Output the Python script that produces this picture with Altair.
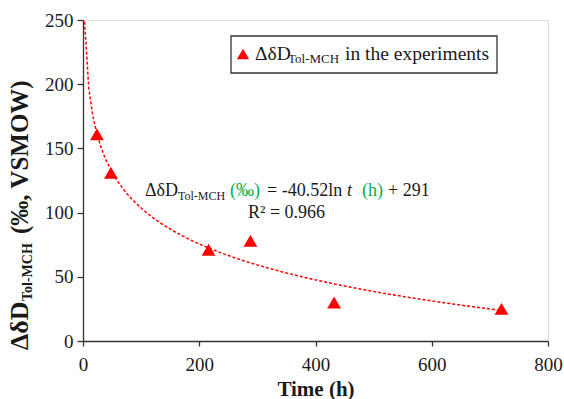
import altair as alt
import pandas as pd

# ---- data ----
time_h = [24, 48, 216, 288, 432, 720]
delta_dD = [161, 131, 71, 78, 30, 25]
x_ticks = [0, 200, 400, 600, 800]
y_ticks = [0, 50, 100, 150, 200, 250]
fit_extent = [2.75, 720]

df = pd.DataFrame({"t": time_h, "v": delta_dD})

FONT = "Liberation Serif, Times New Roman, serif"
TXT = "#1a1a1a"
AX = "#333333"
RED = "#FF0000"
GREEN = "#00B050"

x_enc = alt.X(
    "t:Q",
    scale=alt.Scale(domain=[0, 800], nice=False),
    axis=alt.Axis(
        values=x_ticks, title="Time (h)", grid=False, labelFlush=False,
        domainColor=AX, domainWidth=1.3, tickColor=AX, tickWidth=1.3, tickSize=5,
        labelFont=FONT, labelFontSize=19, labelColor=TXT, labelPadding=9,
        titleFont=FONT, titleFontSize=21, titleFontWeight="bold", titleColor=TXT,
        titlePadding=4,
    ),
)
y_enc = alt.Y(
    "v:Q",
    scale=alt.Scale(domain=[0, 250], nice=False),
    axis=alt.Axis(
        values=y_ticks, title=None, grid=False, labelFlush=False,
        domainColor=AX, domainWidth=1.3, tickColor=AX, tickWidth=1.3, tickSize=6,
        labelFont=FONT, labelFontSize=19, labelColor=TXT, labelPadding=4,
    ),
)

base = alt.Chart(df)

fit = base.transform_regression(
    "t", "v", method="log", extent=fit_extent
).mark_line(color=RED, strokeDash=[3, 2], strokeWidth=1.5, clip=True).encode(x=x_enc, y=y_enc)

points = base.mark_point(
    shape="triangle-up", filled=True, color=RED, size=190, opacity=1
).encode(x=x_enc, y=y_enc)


def txt(s, x, y, size, color=TXT, weight="normal", style="normal", angle=0):
    return alt.Chart(alt.Data(values=[{}])).mark_text(
        text=s, font=FONT, fontSize=size, color=color, fontWeight=weight,
        fontStyle=style, angle=angle, align="left", baseline="alphabetic",
    ).encode(x=alt.value(x), y=alt.value(y))


# legend box
legend_box = alt.Chart(alt.Data(values=[{}])).mark_rect(
    fill="white", stroke=AX, strokeWidth=1.3
).encode(x=alt.value(148), x2=alt.value(414), y=alt.value(16), y2=alt.value(53))
legend_sym = alt.Chart(alt.Data(values=[{}])).mark_point(
    shape="triangle-up", filled=True, color=RED, size=150, opacity=1
).encode(x=alt.value(160), y=alt.value(34))
legend_txt = [
    txt("ΔδD", 172, 40, 19.5),
    txt("Tol-MCH", 205, 43, 13),
    txt("in the experiments", 262, 40, 19.5),
]

# equation annotation
eq = [
    txt("ΔδD", 62, 176, 18),
    txt("Tol-MCH", 95, 179.5, 12),
    txt("(‰)", 147, 176, 18, color=GREEN),
    txt("= -40.52ln", 184, 176, 18),
    txt("t", 264, 176, 18, style="italic"),
    txt("(h)", 279, 176, 18, color=GREEN),
    txt("+ 291", 305, 176, 18),
    txt("R² = 0.966", 165, 198, 18),
]

# rotated y-axis title
ytitle = [
    txt("ΔδD", -55, 330, 26, weight="bold", angle=270),
    txt("Tol-MCH", -51, 281, 14, weight="bold", angle=270),
    txt("(‰, VSMOW)", -55, 214, 25, weight="bold", angle=270),
]

chart = alt.layer(
    fit, points, legend_box, legend_sym, *legend_txt, *eq, *ytitle
).properties(
    width=465, height=321,
    padding={"left": 83, "top": 20, "right": 16, "bottom": 58},
    autosize=alt.AutoSizeParams(type="none"),
).configure_view(stroke=None).configure(background="white")

chart.save("out.html", embed_options={"renderer": "svg", "actions": False})
